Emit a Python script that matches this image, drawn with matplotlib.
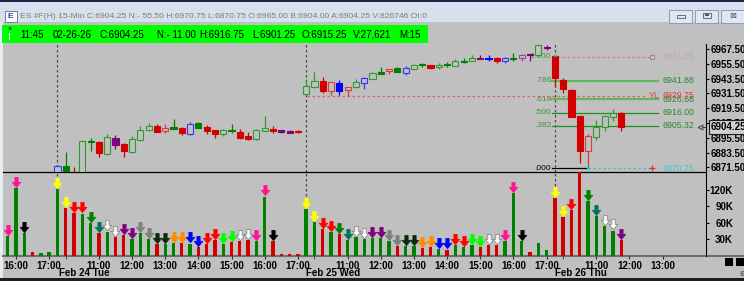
import matplotlib
matplotlib.use('Agg')
import matplotlib.pyplot as plt
import matplotlib.transforms as mtransforms
from matplotlib.patches import Rectangle
from matplotlib.path import Path

plt.rcParams['font.family'] = ['Liberation Sans', 'DejaVu Sans']

nan = float('nan')

# ES 15-min bars, index 0 = Feb 24 16:00 ... index 74 = Feb 26 11:45
# bars 0-5 sit below the visible price range
opens = [nan] * 6 + [
    6865.0, 6864.0, 6866.0, 6862.0, 6892.25, 6892.0, 6882.5, 6895.25, 6890.75, 6884.25,
    6893.75, 6901.5, 6905.0, 6900.75, 6903.0, 6903.75, 6898.75, 6903.75, 6904.25, 6901.5,
    6898.25, 6900.75, 6900.5, 6897.25, 6894.25, 6901.0, 6903.0, 6902.0, 6901.25, 6900.5,
    6930.75, 6937.0, 6941.75, 6933.75, 6939.75, 6934.25, 6937.0, 6939.75, 6943.25, 6947.5,
    6949.75, 6948.5, 6947.75, 6951.5, 6954.25, 6954.5, 6952.75, 6954.25, 6954.0, 6957.0,
    6957.5, 6959.5, 6959.75, 6960.0, 6957.75, 6959.5, 6960.0, 6962.5, 6962.25, 6969.0,
    6962.0, 6942.5, 6934.5, 6913.25, 6884.75, 6896.5, 6904.0, 6912.5, 6915.25]
highs = [nan] * 6 + [
    6873.5, 6884.0, 6871.5, 6893.75, 6895.25, 6893.0, 6898.25, 6897.5, 6891.25, 6897.0,
    6905.0, 6907.75, 6906.5, 6906.75, 6910.5, 6904.5, 6908.25, 6908.25, 6906.0, 6902.0,
    6903.0, 6906.5, 6902.5, 6900.5, 6902.5, 6913.25, 6905.0, 6902.0, 6902.0, 6901.75,
    6943.0, 6949.0, 6944.5, 6940.75, 6942.5, 6937.0, 6943.0, 6945.0, 6948.5, 6952.75,
    6951.5, 6953.0, 6953.75, 6955.0, 6956.5, 6954.5, 6956.0, 6957.0, 6959.5, 6960.0,
    6962.5, 6962.5, 6962.5, 6961.25, 6961.25, 6964.5, 6963.5, 6963.5, 6970.75, 6970.75,
    6963.0, 6943.75, 6935.0, 6913.25, 6898.25, 6910.0, 6914.0, 6919.0, 6916.75]
lows = [nan] * 6 + [
    6863.0, 6862.0, 6860.0, 6861.0, 6885.0, 6880.25, 6881.75, 6886.5, 6880.25, 6883.5,
    6893.0, 6901.0, 6900.0, 6899.25, 6902.5, 6897.75, 6897.5, 6903.25, 6898.75, 6895.5,
    6897.0, 6899.0, 6894.75, 6893.75, 6893.75, 6901.0, 6899.0, 6899.5, 6899.0, 6899.0,
    6929.5, 6936.0, 6931.5, 6930.25, 6930.25, 6929.5, 6936.0, 6935.25, 6943.0, 6947.5,
    6947.0, 6948.5, 6946.25, 6951.0, 6953.0, 6951.0, 6951.0, 6953.25, 6954.0, 6956.0,
    6957.5, 6959.0, 6957.75, 6956.0, 6956.0, 6957.75, 6958.0, 6958.0, 6962.0, 6966.5,
    6937.0, 6932.0, 6912.5, 6874.75, 6870.75, 6893.75, 6901.25, 6909.0, 6901.25]
closes = [nan] * 6 + [
    6872.5, 6872.5, 6862.0, 6893.0, 6892.75, 6883.0, 6896.0, 6890.0, 6884.75, 6894.25,
    6901.75, 6905.0, 6900.5, 6903.25, 6904.5, 6899.0, 6906.75, 6907.25, 6901.0, 6898.25,
    6901.75, 6901.5, 6895.5, 6894.5, 6901.75, 6903.5, 6901.0, 6900.5, 6899.5, 6900.0,
    6937.75, 6941.75, 6933.5, 6940.75, 6933.5, 6937.0, 6940.75, 6943.75, 6948.0, 6948.5,
    6951.5, 6952.0, 6952.0, 6954.5, 6955.0, 6952.25, 6954.75, 6955.0, 6958.0, 6957.75,
    6960.25, 6960.25, 6960.5, 6957.5, 6960.0, 6960.5, 6962.5, 6963.25, 6970.5, 6968.5,
    6943.75, 6934.75, 6912.5, 6884.75, 6897.0, 6904.0, 6913.25, 6915.75, 6904.25]
# candle kind: upper = filled, lower = hollow; G green, R red, B blue, P purple
candle_kind = ("------"
               "bGRgGRgPRgggRrGRbGRRgGRRggRPPR"
               "ggRrBrgbgGrGbgGRgGgGgPBRbGpPgP"
               "RRRRrgggR")

# volume in thousands
volumes = [36, 123, 41, 6, 4.5, 6, 122, 87, 78, 77, 59, 41, 44, 34, 38, 31, 41, 31, 21, 21,
           23, 23, 22, 16, 21, 28, 21, 25, 27, 29, 27, 108, 27, 4, 4, 4, 85, 61, 48, 43,
           39, 28, 34, 30, 32, 32, 27, 17, 18, 18, 14, 16, 12, 11, 19, 16, 20, 16, 20, 20,
           27, 114, 27, 7, 23, 11, 106, 71, 83, 165, 100, 72, 54, 46, 28]
volume_dir = ("gggrgg"
              "grrggrgrrgggrggrgrrrgrrrggrrrr"
              "ggrgrggggggrggrrgrgggrrrgggrgg"
              "rrrrggggr")
arrow_names = ['pink', 'pink', 'black', None, None, None,
               'yellow', 'yellow', 'red', 'red', 'green', 'teal', 'white', 'white', 'purple', 'purple',
               'gray', 'gray', 'dkgreen', 'dkgreen', 'orange', 'orange', 'blue', 'blue', 'red', 'red',
               'lime', 'lime', 'white', 'white', 'pink', 'pink', 'black', None, None, None,
               'yellow', 'yellow', 'red', 'red', 'green', 'teal', 'white', 'white', 'purple', 'purple',
               'gray', 'gray', 'dkgreen', 'dkgreen', 'orange', 'orange', 'blue', 'blue', 'red', 'red',
               'lime', 'lime', 'white', 'white', 'pink', 'pink', 'black', None, None, None,
               'yellow', 'yellow', 'red', 'red', 'green', 'teal', 'white', 'white', 'purple']

session_starts = [6, 36, 66]
session_dates = ['Feb 24 Tue', 'Feb 25 Wed', 'Feb 26 Thu']
time_ticks = [1, 5, 11, 15, 19, 23, 27, 31, 35, 41, 45, 49, 53, 57, 61, 65, 71, 75, 79]
time_labels = ['16:00', '17:00', '11:00', '12:00', '13:00', '14:00', '15:00', '16:00', '17:00',
               '11:00', '12:00', '13:00', '14:00', '15:00', '16:00', '17:00', '11:00', '12:00', '13:00']
price_ticks = [6871.5, 6883.5, 6895.5, 6907.5, 6919.5, 6931.5, 6943.5, 6955.5, 6967.5]
vol_ticks = [30, 60, 90, 120]

fib_low, fib_high = 6870.75, 6961.25
fib_levels = [0.0, 0.382, 0.5, 0.618, 0.786, 1.0]
yesterday_low = 6929.75
last_price = 6904.25

title_text = ("ES #F(H) 15-Min C:6904.25 N:- 55.50 H:6970.75 L:6870.75 O:6965.00 "
              "B:6904.00 A:6904.25 V:826746 OI:0")
info_fields = ['11:45', '02-26-26', 'C:6904.25', 'N:- 11.00', 'H:6916.75', 'L:6901.25',
               'O:6915.25', 'V:27,621', 'M:15']

BG = '#c0c0c0'
W, H = 744, 281
fig = plt.figure(figsize=(W / 100, H / 100), dpi=100)


def px_axes(x0, y0, x1, y1):
    return fig.add_axes([x0 / W, 1 - y1 / H, (x1 - x0) / W, (y1 - y0) / H])


# window chrome
bg = px_axes(0, 0, W, H)
bg.set_xlim(0, W)
bg.set_ylim(H, 0)
bg.axis('off')
bg.add_patch(Rectangle((0, 0), W, H, fc=BG, ec='none'))
bg.add_patch(Rectangle((0, 0), W, 22, fc='#d6e1ed', ec='none'))
bg.add_patch(Rectangle((0, 0), W, 1.5, fc='#1c2448', ec='none'))
bg.add_patch(Rectangle((0, 22), 3, H - 22, fc='#e6ecf4', ec='none'))
bg.add_patch(Rectangle((0, 278), W, 3, fc='#1e1e1e', ec='none'))
bg.add_patch(Rectangle((5, 10.5), 11.5, 11, fc='white', ec='#5a6a9a', lw=0.6))
bg.text(10.7, 16.3, 'E', color='#2040c0', fontsize=6, fontweight='bold', ha='center', va='center')
bg.text(20.5, 16, title_text, color='#7c7c7c', fontsize=6.1, va='center')
for bx in (669, 695, 721):
    bg.add_patch(Rectangle((bx, 9.5), 23, 13, fc='#dfe8f2', ec='#8c9cb2', lw=0.7))
bg.add_patch(Rectangle((677, 15), 8, 2.5, fc='none', ec='#505a6a', lw=0.6))
bg.add_patch(Rectangle((703, 12.5), 7.5, 5, fc='none', ec='#505a6a', lw=0.6))
bg.add_patch(Rectangle((705, 14), 3.5, 2, fc='#505a6a', ec='none'))
bg.text(732.5, 15.5, '\u22a0', color='#505a6a', fontsize=6, ha='center', va='center',
        family=['DejaVu Sans'])
bg.add_patch(Rectangle((2, 25), 426, 18, fc='#00ff00', ec='none'))
bg.text(9.5, 29, '\u00d7', fontsize=5, ha='center', va='center')
bg.add_patch(Rectangle((8.8, 33), 1.4, 7, fc='white', ec='none'))
for fx, field in zip([20.7, 53, 100, 157, 199, 252, 302, 353, 399], info_fields):
    bg.text(fx, 34.5, field, fontsize=7, va='center', color='black')
bg.plot([3, W], [255.7, 255.7], color='#6e6e6e', lw=1.5)
bg.add_patch(Rectangle((725, 258), 8, 8, fc='black', ec='none'))
bg.add_patch(Rectangle((736, 258), 8, 8, fc='black', ec='none'))
bg.text(739, 274, 'IE', fontsize=5.5, color='#404040', va='center')

# price and volume panes share the bar index axis
ax_p = px_axes(3, 44, 705.5, 172)
ax_v = px_axes(3, 172, 705.5, 255.7)
for ax in (ax_p, ax_v):
    ax.set_facecolor('none')
    ax.set_xlim(-0.567, 84.17)
    ax.spines['left'].set_visible(False)
    ax.spines['top'].set_visible(False)
    ax.spines['right'].set_color('black')
    ax.spines['right'].set_linewidth(0.8)
    ax.yaxis.tick_right()
    for s in session_starts:
        ax.axvline(s, color='#4a4a4a', lw=0.9, ls=(0, (2, 2)), zorder=0.5)
ax_p.set_ylim(6867.75, 6971.55)
ax_p.spines['bottom'].set_color('black')
ax_p.spines['bottom'].set_linewidth(0.9)
ax_p.set_xticks([])
ax_p.set_yticks(price_ticks)
ax_p.set_yticklabels(['%.2f' % p for p in price_ticks], fontsize=7, fontweight='bold')
ax_p.tick_params(axis='y', length=2.5, pad=1.2, color='black')

solid = {'G': '#008000', 'R': '#d40000', 'B': '#0000ff', 'P': '#800080'}
hollow = {'g': '#2e9a2e', 'r': '#dc3a3a', 'b': '#3535ff', 'p': '#a040a0'}
for i, kind in enumerate(candle_kind):
    if kind == '-':
        continue
    o, h, l, c = opens[i], highs[i], lows[i], closes[i]
    if kind in solid:
        col = face = solid[kind]
    else:
        col, face = hollow[kind], BG
    ax_p.vlines(i, l, h, color=col, lw=0.9, zorder=2)
    lo, hi = min(o, c), max(o, c)
    if hi - lo < 0.9:
        mid = (hi + lo) / 2
        lo, hi = mid - 0.45, mid + 0.45
    ax_p.bar(i, hi - lo, bottom=lo, width=0.74, color=face, edgecolor=col, lw=0.8, zorder=3)

# fibonacci retracement of the Feb 26 drop
fib_x0, fib_x1, fib_lab = 65.65, 77.7, 79.0
fib_prices = [fib_low + lv * (fib_high - fib_low) for lv in fib_levels]
for lv, fp in zip(fib_levels, fib_prices):
    lab = '%.3f' % lv
    if lv < 1:
        lab = lab[1:]
    ax_p.text(fib_x0 - 0.1, fp, lab, fontsize=6, ha='right', va='center',
              color='black' if lv == 0 else '#3a9a3a', zorder=1)
    if lv == 0:
        ax_p.plot([fib_x0, 70], [fp, fp], color='black', lw=0.9, zorder=1.5)
        ax_p.plot([70, fib_x1], [fp, fp], color='#20d0d0', lw=0.9, ls=(0, (2, 2)), zorder=1.5)
        ax_p.plot([fib_x1], [fp], marker='+', color='#e03030', ms=5, mew=0.9)
        ax_p.text(fib_lab, fp, '%.2f' % fp, fontsize=6.3, color='#3cc8c8', va='center')
    elif lv == 1:
        ax_p.plot([fib_x0, fib_x1], [fp, fp], color='#e07878', lw=0.9, ls=(0, (2, 2)), zorder=1.5)
        ax_p.plot([fib_x1], [fp], marker='s', ms=3.5, mfc='none', mec='#a08888', mew=0.7)
        ax_p.text(fib_lab, fp, '%.2f' % fp, fontsize=6.3, color='#c8a2b6', va='center')
    else:
        thick = lv in (0.618, 0.786)
        ax_p.plot([fib_x0, fib_x1 + 0.7], [fp, fp], color='#5cb85c' if thick else '#1f8f1f',
                  lw=1.6 if thick else 0.9, zorder=1.5)
        ax_p.text(fib_lab, fp, '%.2f' % fp, fontsize=6.3, color='#2a8a2a', va='center')
ax_p.plot([session_starts[1] + 0.07, 76.9], [yesterday_low, yesterday_low], color='#e06060',
          lw=0.9, ls=(0, (2, 2)), zorder=1.5)
ax_p.text(77.3, yesterday_low, 'YL', fontsize=6.3, color='#e03c3c', va='center')
ax_p.text(fib_lab, yesterday_low, '%.2f' % yesterday_low, fontsize=6.3, color='#e03c3c', va='center')
ax_p.scatter([66, 70], [6962.25, fib_low], s=4, color='#00e0e0', zorder=5, lw=0)

# last price marker and box
ax_p.plot([83.5], [last_price], marker='<', ms=3.5, mfc='none', mec='#404040', mew=0.7,
          clip_on=False)
ax_p.plot([83.75, 84.17], [last_price, last_price], color='#404040', lw=0.7, clip_on=False)
ax_p.text(1.008, last_price, '%.2f' % last_price,
          transform=mtransforms.blended_transform_factory(ax_p.transAxes, ax_p.transData),
          fontsize=7, fontweight='bold', va='center', ha='left', zorder=10, clip_on=False,
          bbox=dict(boxstyle='square,pad=0.18', fc='#cfcfcf', ec='#202020', lw=0.8))

# volume pane
vol_colors = ['#008000' if d == 'g' else '#d00000' for d in volume_dir]
ax_v.bar(range(len(volumes)), volumes, width=0.4, color=vol_colors, zorder=2)
ax_v.set_ylim(0, 153)
ax_v.spines['bottom'].set_visible(False)
ax_v.set_yticks(vol_ticks)
ax_v.set_yticklabels(['%dK' % v for v in vol_ticks], fontsize=7, fontweight='bold')
ax_v.tick_params(axis='y', length=2.5, pad=17.3, color='black')
for lab in ax_v.get_yticklabels():
    lab.set_ha('right')
ax_v.set_xticks(time_ticks)
ax_v.set_xticklabels(time_labels, fontsize=7, fontweight='bold')
ax_v.set_xticks([s + 1 for s in session_starts], minor=True)
ax_v.tick_params(axis='x', which='both', length=2, pad=1.5, color='#303030')

arrow_rgb = {'pink': '#ff1493', 'black': '#000000', 'yellow': '#ffff00', 'red': '#ff0000',
             'green': '#008000', 'teal': '#00735a', 'white': '#ffffff', 'purple': '#800080',
             'gray': '#808080', 'dkgreen': '#0a2a0a', 'orange': '#ff8c00', 'blue': '#0000ff',
             'lime': '#00ff00'}
arrow = Path([(-0.16, 0.5), (0.16, 0.5), (0.16, 0.02), (0.42, 0.02), (0, -0.5),
              (-0.42, 0.02), (-0.16, 0.02), (-0.16, 0.5)],
             [Path.MOVETO] + [Path.LINETO] * 6 + [Path.CLOSEPOLY])
arrow_trans = mtransforms.offset_copy(ax_v.transData, fig=fig, x=0, y=6.2, units='dots')
for name, col in arrow_rgb.items():
    idx = [i for i, a in enumerate(arrow_names) if a == name]
    if not idx:
        continue
    ax_v.plot(idx, [volumes[i] for i in idx], ls='none', marker=arrow, ms=7.4, mfc=col,
              mec='#7a7a7a' if name == 'white' else col, mew=0.5, transform=arrow_trans, zorder=4)

date_trans = mtransforms.blended_transform_factory(ax_v.transData, ax_v.transAxes)
for s, d in zip(session_starts, session_dates):
    ax_v.text(s + 3.2, -0.205, d, transform=date_trans, fontsize=7, fontweight='bold',
              ha='center', va='center', clip_on=False)

fig.savefig('out.png', dpi=100)
